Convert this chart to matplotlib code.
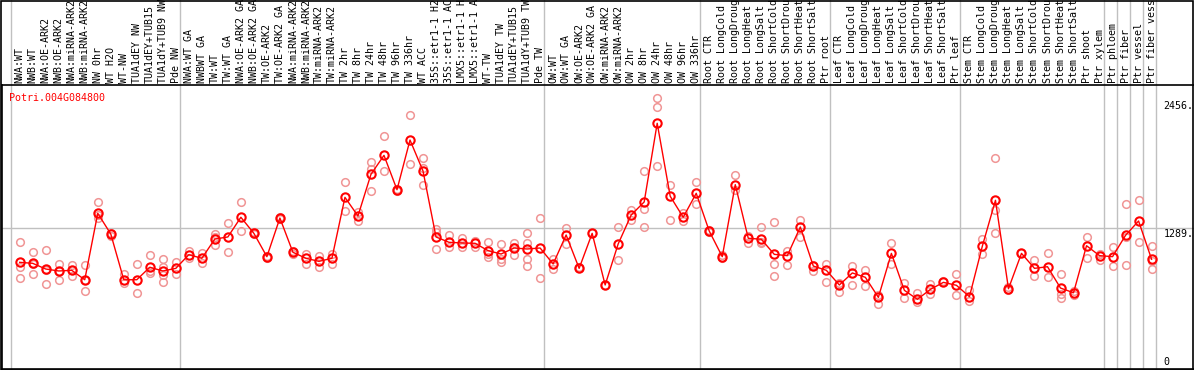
import matplotlib
matplotlib.use("Agg")
import matplotlib.pyplot as plt
from matplotlib.patches import Rectangle

gene = "Potri.004G084800"

samples = [
    "NWA:WT", "NWB:WT", "NWA:OE-ARK2", "NWB:OE-ARK2", "NWA:miRNA-ARK2",
    "NWB:miRNA-ARK2", "NW 0hr", "WT H2O", "WT-NW", "TUA1dEY NW",
    "TUA1dEY+TUB15", "TUA1dY+TUB9 NW", "Pde NW",
    "NWA:WT GA", "NWBWT GA", "TW:WT", "TW:WT GA", "NWA:OE-ARK2 GA",
    "NWB:OE-ARK2 GA", "TW:OE-ARK2", "TW:OE-ARK2 GA", "NWA:miRNA-ARK2",
    "NWB:miRNA-ARK2", "TW:miRNA-ARK2", "TW:miRNA-ARK2", "TW 2hr", "TW 8hr",
    "TW 24hr", "TW 48hr", "TW 96hr", "TW 336hr", "WT ACC", "35S::etr1-1 H2",
    "35S::etr1-1 AC", "LMX5::etr1-1 H", "LMX5::etr1-1 A", "WT-TW",
    "TUA1dEY TW", "TUA1dEY+TUB15", "TUA1dY+TUB9 TW", "Pde TW",
    "OW:WT", "OW:WT GA", "OW:OE-ARK2", "OW:OE-ARK2 GA", "OW:miRNA-ARK2",
    "OW:miRNA-ARK2", "OW 2hr", "OW 8hr", "OW 24hr", "OW 48hr", "OW 96hr",
    "OW 336hr",
    "Root CTR", "Root LongCold", "Root LongDroug", "Root LongHeat",
    "Root LongSalt", "Root ShortCold", "Root ShortDrou", "Root ShortHeat",
    "Root ShortSalt", "Ptr root",
    "Leaf CTR", "Leaf LongCold", "Leaf LongDroug", "Leaf LongHeat",
    "Leaf LongSalt", "Leaf ShortCold", "Leaf ShortDrou", "Leaf ShortHeat",
    "Leaf ShortSalt", "Ptr leaf",
    "Stem CTR", "Stem LongCold", "Stem LongDroug", "Stem LongHeat",
    "Stem LongSalt", "Stem ShortCold", "Stem ShortDrou", "Stem ShortHeat",
    "Stem ShortSalt", "Ptr shoot", "Ptr xylem",
    "Ptr phloem", "Ptr fiber", "Ptr vessel", "Ptr fiber vess",
]

# index of the first sample of each group (last entry closes the final group)
group_starts = [0, 13, 41, 53, 63, 73, 84, 85, 86, 87, 88]

means = [
    975, 966, 914, 896, 902, 816, 1423, 1234, 816, 816, 930, 896, 920,
    1045, 1012, 1188, 1207, 1387, 1240, 1027, 1380, 1067, 1012, 984, 1012,
    1569, 1399, 1780, 1953, 1639, 2093, 1810, 1207, 1158, 1152, 1149, 1082,
    1051, 1106, 1097, 1106,
    960, 1225, 920, 1240, 768, 1143, 1408, 1527, 2246, 1579, 1387, 1606,
    1261, 1027, 1685, 1195, 1186, 1048, 1036, 1298, 941, 902,
    768, 878, 838, 655, 1057, 719, 637, 728, 792, 765,
    661, 1127, 1542, 734, 1057, 920, 935, 740, 697, 1127, 1036,
    1027, 1222, 1353, 1003,
]

replicates = [
    [1158, 930, 829], [1067, 866, 960], [1085, 902, 774], [960, 816, 896],
    [953, 850, 902], [953, 710, 816], [1524, 1383, 1410], [1219, 1240],
    [871, 789], [960, 692], [1042, 874, 900], [1005, 930, 860, 798],
    [975, 866],
    [1082, 1012], [1060, 969], [1231, 1136, 1210], [1332, 1067],
    [1524, 1261], [1235, 1248], [1036, 1018], [1386, 1374], [1080, 1050],
    [1054, 963], [1036, 932], [1054, 963], [1707, 1447], [1438, 1356],
    [1889, 1828, 1624], [2127, 1806], [1645, 1630], [2322, 1874],
    [1926, 1840, 1679], [1277, 1250, 1097], [1228, 1112], [1200, 1112],
    [1170, 1112], [1158, 1021, 1050], [1143, 978, 1010], [1155, 1042, 1115],
    [1243, 1150, 1005, 944], [1378, 829],
    [1003, 914], [1292, 1145], [925, 930], [1243], [768], [1295, 994],
    [1451, 1365], [1807, 1465, 1295], [2474, 2398, 1856], [1682, 1359],
    [1429, 1356], [1707, 1506],
    [1270, 1250], [1045, 1018], [1773, 1636], [1215, 1149],
    [1295, 1160, 1149], [1341, 957, 847], [1079, 951], [1362, 1209],
    [950, 899], [960, 795],
    [790, 707], [941, 768], [905, 759], [680, 591], [1149, 957], [783, 652],
    [692, 610], [777, 683], [805], [868, 673],
    [722, 624], [1188, 1051], [1926, 1453, 1240], [750, 720], [1057],
    [996, 853], [1057, 838], [871, 646, 690], [710, 680], [1209, 1012],
    [1050, 996],
    [1118, 944], [1506, 1204, 948], [1545, 1158], [1127, 911, 990],
]

y_ticks = [0, 1289, 2456]

W, H = 1194, 370
MONO = "DejaVu Sans Mono"


def main():
    fig = plt.figure(figsize=(W / 100, H / 100), dpi=100)
    # plot area in pixels: x 2..1194, y 85..369 (from top)
    ax = fig.add_axes([2 / W, 1 / H, 1192 / W, 284 / H])
    ax.set_xlim(-1.36, 90.26)
    ax.set_ylim(0, 2596)
    ax.set_xticks([])
    ax.set_yticks([])
    for side in ["left", "bottom", "top"]:
        ax.spines[side].set_linewidth(1.2)
        ax.spines[side].set_color("black")
    ax.spines["right"].set_visible(False)

    # group separators run up through the label area
    for g in group_starts:
        ax.axvline(g - 0.69, ymin=0, ymax=370 / 284, color="#c0c0c0",
                   lw=1, clip_on=False, zorder=0)
    ax.axhline(y_ticks[1], color="#c0c0c0", lw=1, zorder=0)

    xs = list(range(len(samples)))
    for i, reps in enumerate(replicates):
        ax.plot([i] * len(reps), reps, "o", ms=5.5, mfc="none",
                mec="#f09595", mew=1.1, zorder=2)
    ax.plot(xs, means, "-", color="red", lw=1, zorder=3)
    ax.plot(xs, means, "o", ms=6, mfc="none", mec="red", mew=1.5, zorder=4)

    for i, name in enumerate(samples):
        ax.annotate(name, xy=(i, 1), xycoords=("data", "axes fraction"),
                    xytext=(0, 2), textcoords="offset pixels",
                    rotation=90, ha="center", va="bottom",
                    family=MONO, fontsize=7.2, color="black")

    ax.annotate(gene, xy=(0, 1), xycoords="axes fraction",
                xytext=(7, -13), textcoords="offset pixels",
                ha="left", va="center", family=MONO, fontsize=7.2,
                color="red")

    for v, txt, va, dy in [(y_ticks[2], "2456.", "top", -1),
                           (y_ticks[1], "1289.", "top", -1),
                           (y_ticks[0], "0", "baseline", 4)]:
        ax.annotate(txt, xy=(0.9745, v), xycoords=("axes fraction", "data"),
                    xytext=(0, dy), textcoords="offset pixels",
                    ha="left", va=va, family=MONO, fontsize=7.2,
                    color="black")

    # outer frame of the whole picture
    fig.patches.append(Rectangle((0.5 / W, 0.5 / H), 1 - 1.5 / W, 1 - 1.5 / H,
                                 transform=fig.transFigure, fill=False,
                                 edgecolor="black", lw=1.2))

    fig.savefig("out.png", dpi=100)


if __name__ == "__main__":
    main()
